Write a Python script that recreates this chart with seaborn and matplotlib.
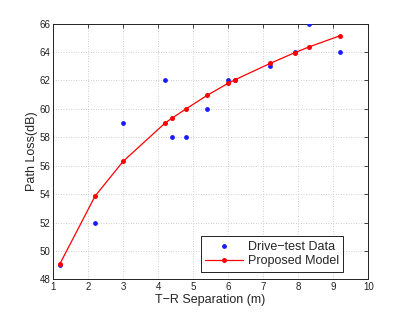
import numpy as np
import pandas as pd
import matplotlib
matplotlib.use("Agg")
import matplotlib.pyplot as plt
import seaborn as sns

# T-R separation (m) and measured / modelled path loss (dB)
distance = [1.2, 2.2, 3.0, 4.2, 4.4, 4.8, 5.4, 6.0, 6.2, 7.2, 7.9, 8.3, 9.2]
measured = [49, 52, 59, 62, 58, 58, 60, 62, 62, 63, 64, 66, 64]
model = [49.1, 53.85, 56.3, 59.0, 59.35, 60.0, 60.95, 61.8, 62.05, 63.2, 63.95, 64.35, 65.15]

x_ticks = [1, 2, 3, 4, 5, 6, 7, 8, 9, 10]
y_ticks = [48, 50, 52, 54, 56, 58, 60, 62, 64, 66]

df = pd.DataFrame({"d": distance, "meas": measured, "model": model})

sns.set_style("white")
plt.rcParams['font.family'] = ['Liberation Sans', 'DejaVu Sans']

fig = plt.figure(figsize=(4.07, 3.14), dpi=100)
ax = fig.add_axes([0.13, 0.11, 0.775, 0.815])

sns.scatterplot(data=df, x="d", y="meas", ax=ax, color="#1a1aff", marker="o",
                s=12, linewidth=0, label="Drive\u2212test Data", zorder=3)
sns.lineplot(data=df, x="d", y="model", ax=ax, color="#ff0000", marker="o",
             markersize=3.6, markeredgewidth=0, linewidth=0.9,
             label="Proposed Model", zorder=4)

ax.set_xlim(1, 10)
ax.set_ylim(48, 66)
ax.set_xticks(x_ticks)
ax.set_yticks(y_ticks)
ax.tick_params(direction="in", top=True, right=True, labelsize=7, length=3,
               width=0.6, pad=2, colors="#222222")
ax.grid(True, linestyle=(0, (1, 2)), color="#c0c0c0", linewidth=0.6)
for sp in ax.spines.values():
    sp.set_color("#222222")
    sp.set_linewidth(0.7)

ax.set_xlabel("T\u2212R Separation (m)", fontsize=9, labelpad=1)
ax.set_ylabel("Path Loss(dB)", fontsize=9, labelpad=1)

leg = ax.legend(loc="lower right", bbox_to_anchor=(0.921, 0.031), borderaxespad=0,
                fontsize=9, frameon=True, fancybox=False,
                edgecolor="#222222", framealpha=1, borderpad=0.35,
                handlelength=3, handletextpad=0.4, labelspacing=0.2)
leg.get_frame().set_linewidth(0.7)

fig.savefig("out.png", dpi=100)
